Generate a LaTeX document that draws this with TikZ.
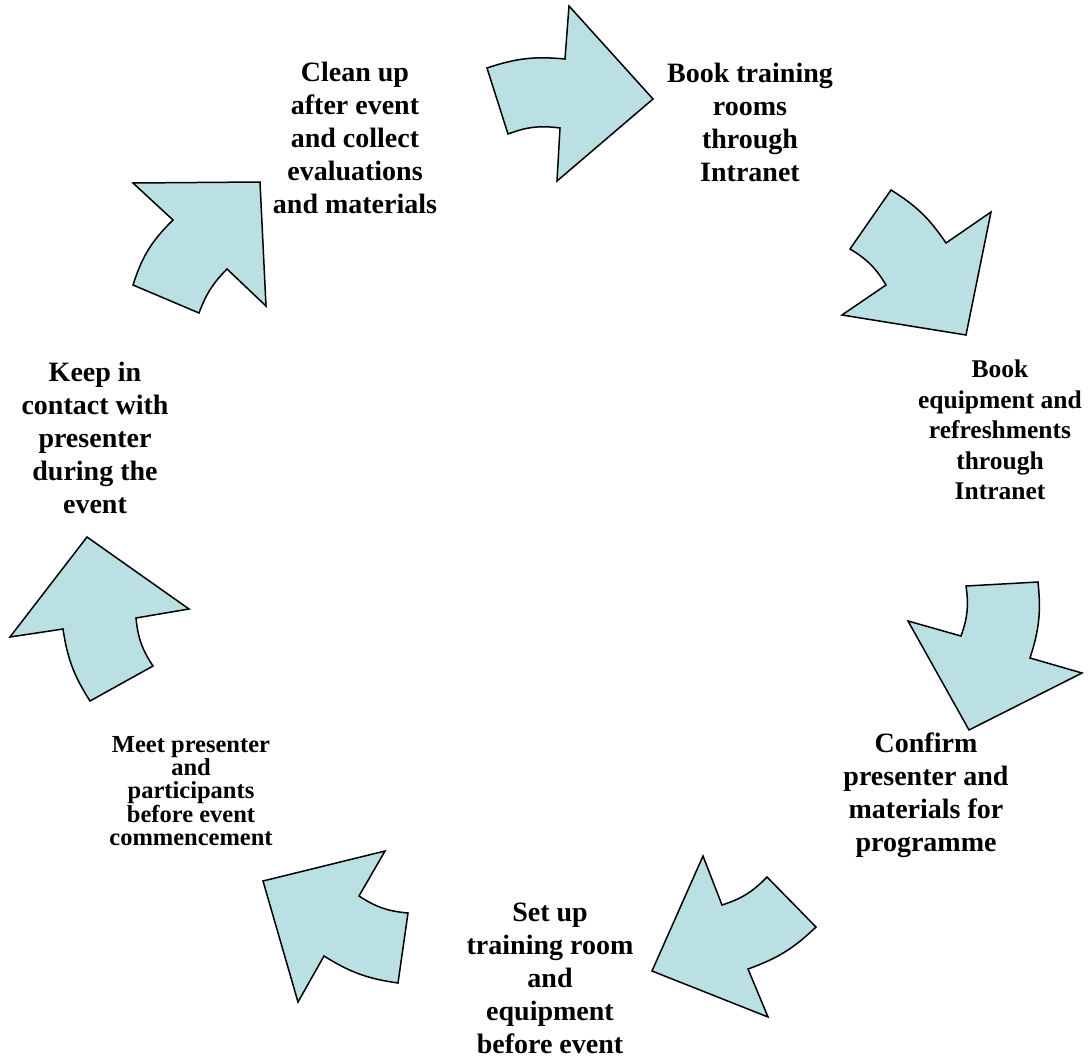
\documentclass[tikz,border=0pt]{standalone}
\usepackage{fontspec}
\setmainfont{Liberation Serif}
\begin{document}
\begin{tikzpicture}[x=1pt,y=-1pt,
  cyclearrow/.style={draw=black, line width=1.5pt, fill=arrowfill, line join=miter},
  bigtext/.style={align=center, font=\bfseries\fontsize{28}{33}\selectfont, inner sep=0pt},
  midtext/.style={align=center, font=\bfseries\fontsize{25.5}{30.5}\selectfont, inner sep=0pt},
  smalltext/.style={align=center, font=\bfseries\fontsize{24.5}{23.4}\selectfont, inner sep=0pt}]
\definecolor{arrowfill}{RGB}{187,224,227}
\useasboundingbox (0,0) rectangle (1090,1057);

% step arrows around the cycle
\path[cyclearrow] (487,68) to[bend left=12] (565,59) -- (569,6) -- (653,99) -- (557,181)
  -- (560,128) to[bend right=14] (508,134) -- cycle;
\path[cyclearrow] (891,190) to[bend left=12] (946,243) -- (991,212) -- (966,335) -- (842,315)
  -- (886,285) to[bend right=14] (850,249) -- cycle;
\path[cyclearrow] (966,586) -- (1038,582) to[bend left=12] (1030,658) -- (1082,673) -- (969,730)
  -- (908,621) -- (961,636) to[bend right=14] cycle;
\path[cyclearrow] (703,856) -- (722,905) to[bend right=14] (767,877) -- (816,927)
  to[bend left=12] (748,969) -- (768,1017) -- (652,971) -- cycle;
\path[cyclearrow] (263,881) -- (385,851) -- (359,896) to[bend right=14] (408,913) -- (398,983)
  to[bend left=12] (324,956) -- (298,1002) -- cycle;
\path[cyclearrow] (87,537) -- (189,609) -- (136,618) to[bend right=14] (153,666) -- (90,701)
  to[bend left=12] (63,629) -- (10,637) -- cycle;
\path[cyclearrow] (260,182) -- (133,183) -- (173,220) to[bend right=14] (133,285) -- (199,313)
  to[bend left=12] (227,269) -- (266,306) -- cycle;

% step labels
\node[bigtext] (clean) at (355,138) {Clean up\\after event\\and collect\\evaluations\\and materials};
\node[bigtext] (rooms) at (750,122) {Book training\\rooms\\through\\Intranet};
\node[midtext] (equip) at (1000,430) {Book\\equipment and\\refreshments\\through\\Intranet};
\node[bigtext] (confirm) at (926,795) {Confirm\\presenter and\\materials for\\programme};
\node[bigtext] (setup) at (550,978) {Set up\\training room\\and\\equipment\\before event};
\node[smalltext] (meet) at (191,791) {Meet presenter\\and\\participants\\before event\\commencement};
\node[bigtext] (keep) at (95,438) {Keep in\\contact with\\presenter\\during the\\event};
\end{tikzpicture}
\end{document}
